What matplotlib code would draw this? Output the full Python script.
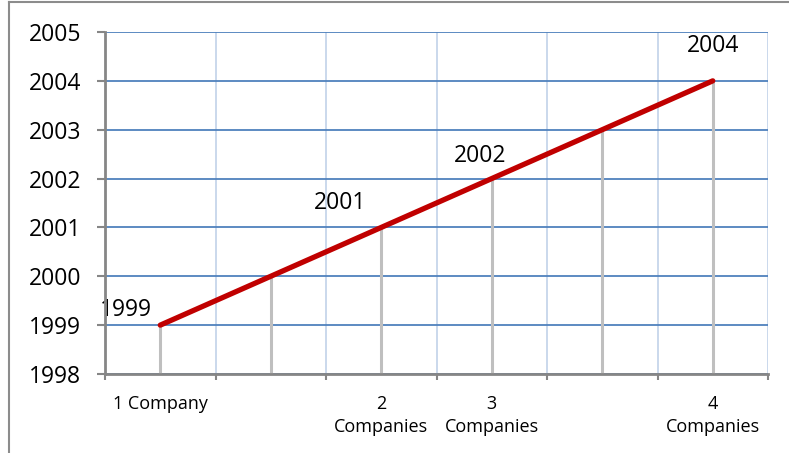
import numpy as np
import matplotlib.pyplot as plt
from matplotlib.lines import Line2D

# Dados do gráfico
categorias = ["1 Company", "", "2\nCompanies", "3\nCompanies", "", "4\nCompanies"]
anos = [1999, 2000, 2001, 2002, 2003, 2004]
rotulos = ["1999", "", "2001", "2002", "", "2004"]
anos_eixo = [1998, 1999, 2000, 2001, 2002, 2003, 2004, 2005]

plt.rcParams['font.family'] = ['Open Sans', 'DejaVu Sans']

fig = plt.figure(figsize=(7.89, 4.53), dpi=100)
ax = fig.add_axes([0.1331, 0.1744, 0.8403, 0.755])

x = np.arange(len(anos))

# Linhas de queda até a base
ax.vlines(x, anos_eixo[0], anos, colors='#BFBFBF', linewidth=2.2, zorder=2)

# Linha principal
ax.plot(x, anos, color='#C00000', linewidth=3.8, solid_capstyle='round', zorder=3)

# Rótulos de dados (deslocamento em pixels)
deslocamentos = [(-34, 15), None, (-41, 24), (-12, 23), None, (0, 35)]
for xi, yi, txt, d in zip(x, anos, rotulos, deslocamentos):
    if txt:
        ax.annotate(txt, (xi, yi), xytext=d, textcoords='offset pixels',
                    ha='center', va='center', fontsize=16.5, color='black')

ax.set_xlim(-0.5, len(anos) - 0.5)
ax.set_ylim(anos_eixo[0], anos_eixo[-1])

ax.set_yticks(anos_eixo)
ax.set_yticklabels([str(a) for a in anos_eixo], fontsize=16.5)
ax.set_xticks(x)
ax.set_xticklabels(categorias, fontsize=13, linespacing=1.4)
ax.set_xticks(np.arange(-0.5, len(anos), 1.0), minor=True)

ax.tick_params(axis='x', which='major', length=0, pad=15)
ax.tick_params(axis='x', which='minor', length=4.5, width=1.5, color='#868686')
ax.tick_params(axis='y', length=6, width=1.5, color='#868686', pad=11)

# Grades
ax.grid(axis='y', color='#4F81BD', linewidth=1.3, zorder=1)
ax.grid(axis='x', which='minor', color='#C6D6EA', linewidth=1.3, zorder=1)
ax.set_axisbelow(True)

for lado in ['top', 'right']:
    ax.spines[lado].set_visible(False)
for lado in ['left', 'bottom']:
    ax.spines[lado].set_color('#868686')
    ax.spines[lado].set_linewidth(2)
    ax.spines[lado].set_zorder(4)

# Moldura externa do gráfico
fig.add_artist(Line2D([0.0108, 0.0108], [0, 0.996], transform=fig.transFigure,
                      color='#8C8C8C', linewidth=1.5))
fig.add_artist(Line2D([0.0108, 1], [0.996, 0.996], transform=fig.transFigure,
                      color='#8C8C8C', linewidth=1.5))

fig.savefig('out.png', dpi=100)
